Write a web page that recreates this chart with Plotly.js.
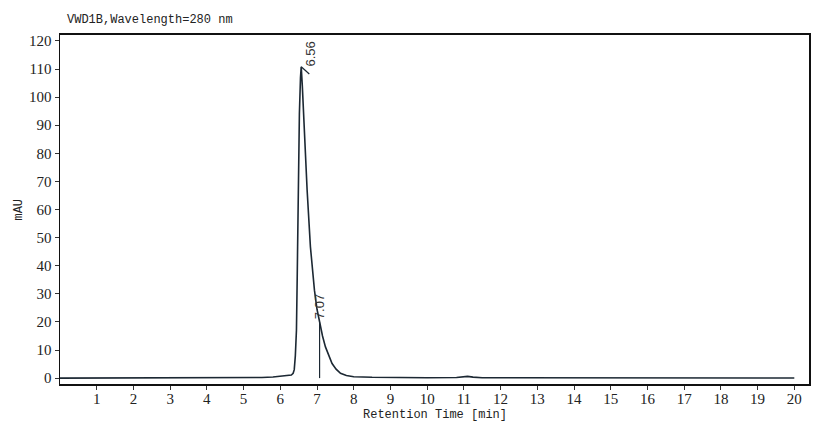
<!DOCTYPE html>
<html>
<head>
<meta charset="utf-8">
<script src="https://cdn.plot.ly/plotly-3.0.1.min.js"></script>
<style>
  body { margin: 0; background: #ffffff; }
  #graph_body { width: 833px; height: 432px; }
</style>
</head>
<body>
<div id="graph_body"></div>
<script>
// Chromatogram data
var retention_time = [0, 1, 2, 3, 3.8, 4.0, 4.2, 5, 5.5, 5.8, 6.0, 6.2, 6.3, 6.35, 6.38, 6.41, 6.44, 6.46, 6.48,
    6.52, 6.55, 6.57, 6.6, 6.64, 6.73, 6.82, 6.88, 6.93, 7.0, 7.07, 7.15, 7.23, 7.32, 7.41, 7.52, 7.64,
    7.8, 8.0, 8.5, 9, 10, 10.8, 11.0, 11.1, 11.25, 11.5, 12, 14, 16, 18, 20];
var signal_mau = [0, 0, 0, 0, 0.05, 0.15, 0.05, 0.05, 0.2, 0.4, 0.6, 0.8, 1.1, 1.7, 3, 8, 17, 35, 60,
    94, 107, 110.8, 104, 91, 67, 46.8, 37, 31.3, 24.5, 19.8, 15, 11.1, 7.8, 5.2, 3.2, 1.7,
    0.9, 0.5, 0.3, 0.2, 0.15, 0.2, 0.5, 0.6, 0.35, 0.15, 0.1, 0.05, 0.05, 0.05, 0.05];

// Peak labels
var peak_times = [6.56, 7.07];
var peak_heights = [110.8, 19.8];
var peak_labels = ['6.56', '7.07'];

var x_ticks = [1, 2, 3, 4, 5, 6, 7, 8, 9, 10, 11, 12, 13, 14, 15, 16, 17, 18, 19, 20];
var y_ticks = [0, 10, 20, 30, 40, 50, 60, 70, 80, 90, 100, 110, 120];

function chromatogram_generator(){
    var data = [
        {
          x: retention_time,
          y: signal_mau,
          type: 'scatter',
          mode: 'lines',
          line: {color: '#1c2833', width: 1.6},
          hoverinfo: 'skip'
        }
    ];

    var mono = 'Liberation Mono, DejaVu Sans Mono, monospace';
    var serif = 'Liberation Serif, DejaVu Serif, serif';
    var sans = 'Liberation Sans, Arial, sans-serif';

    // Peak marker lines and rotated retention time labels
    var shapes = [
        {type: 'line', xref: 'x', yref: 'y', x0: peak_times[0] + 0.01, y0: peak_heights[0],
         x1: peak_times[0] + 0.23, y1: peak_heights[0] - 2.6, line: {color: '#1c2833', width: 1.2}},
        {type: 'line', xref: 'x', yref: 'y', x0: peak_times[1], y0: peak_heights[1],
         x1: peak_times[1], y1: 0, line: {color: '#1c2833', width: 1.2}}
    ];

    var annotations = [
        {xref: 'paper', yref: 'paper', x: 0.007, y: 1.043, xanchor: 'left', yanchor: 'middle',
         text: 'VWD1B,Wavelength=280 nm', showarrow: false, font: {family: mono, size: 12, color: '#222'}},
        {xref: 'paper', yref: 'paper', x: 0.5, y: -0.09, xanchor: 'center', yanchor: 'middle',
         text: 'Retention Time [min]', showarrow: false, font: {family: mono, size: 12, color: '#222'}},
        {xref: 'paper', yref: 'paper', x: -0.056, y: 0.5, xanchor: 'center', yanchor: 'middle',
         text: 'mAU', textangle: -90, showarrow: false, font: {family: mono, size: 12, color: '#222'}},
        {xref: 'x', yref: 'y', x: peak_times[0] + 0.25, y: peak_heights[0] - 0.8, xanchor: 'center', yanchor: 'bottom',
         text: peak_labels[0], textangle: -90, showarrow: false,
         font: {family: sans, size: 13, color: '#333'}},
        {xref: 'x', yref: 'y', x: peak_times[1], y: peak_heights[1] + 0.5, xanchor: 'center', yanchor: 'bottom',
         text: peak_labels[1], textangle: -90, showarrow: false,
         font: {family: sans, size: 13, color: '#333'}}
    ];

    var layout = {
        width: 833,
        height: 432,
        margin: {l: 60, r: 24, t: 35, b: 48},
        paper_bgcolor: '#ffffff',
        plot_bgcolor: '#ffffff',
        showlegend: false,
        xaxis: {
          range: [0, 20.4],
          tickvals: x_ticks,
          ticktext: x_ticks.map(String),
          ticks: 'outside',
          ticklen: 4,
          tickcolor: '#333',
          ticklabelstandoff: -4,
          showgrid: false,
          zeroline: false,
          showline: true,
          linecolor: '#111',
          linewidth: 2,
          mirror: true,
          tickfont: {family: serif, size: 15, color: '#222'}
        },
        yaxis: {
          range: [-2.1, 122.1],
          tickvals: y_ticks,
          ticks: 'outside',
          ticklen: 4,
          tickcolor: '#333',
          showgrid: false,
          zeroline: false,
          showline: true,
          linecolor: '#111',
          linewidth: 1.5,
          mirror: true,
          tickfont: {family: serif, size: 15, color: '#222'}
        },
        shapes: shapes,
        annotations: annotations
    };

    var config = {staticPlot: true};

    Plotly.newPlot('graph_body', data, layout, config);
}

chromatogram_generator();
</script>
</body>
</html>
